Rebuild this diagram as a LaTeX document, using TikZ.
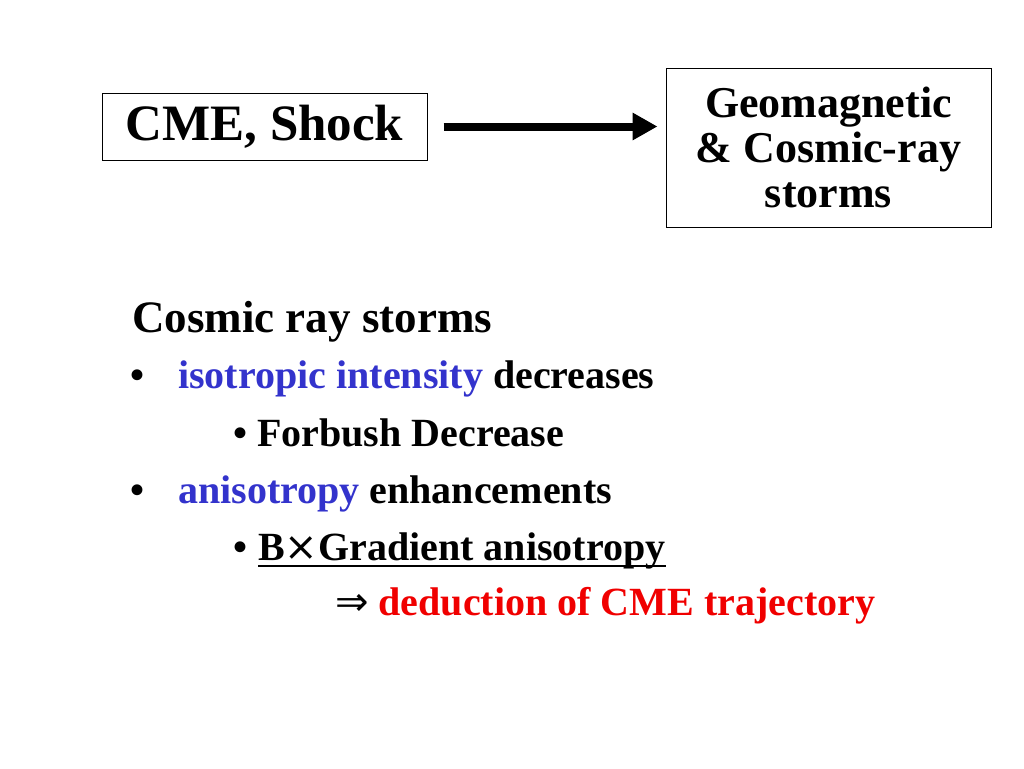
\documentclass[tikz,border=0pt]{standalone}
\usepackage{fontspec}
\setmainfont{Liberation Serif}
\newfontfamily\symfont{DejaVu Sans}
\usetikzlibrary{positioning,arrows.meta}
\definecolor{isoblue}{RGB}{51,51,204}
\definecolor{trajred}{RGB}{240,0,0}

\begin{document}
\begin{tikzpicture}[x=1pt, y=-1pt,
    box/.style={draw, line width=1pt, inner sep=0pt, align=center},
    txt/.style={anchor=base west, inner sep=0pt, font=\fontsize{40}{40}\selectfont\bfseries},
    bigarrow/.style={line width=8pt, -{Triangle[length=25pt, width=26pt]}}]
    \useasboundingbox (0,0) rectangle (1024,768);

    % CME leads to storms
    \node (cme) [box, minimum width=325pt, minimum height=67pt, font=\fontsize{51}{51}\selectfont\bfseries] at (264.5,126.5) {CME, Shock};
    \node (geo) [box, minimum width=325pt, minimum height=159pt, font=\fontsize{44}{45}\selectfont\bfseries, right=238pt of cme, yshift=-21pt] {Geomagnetic\\ \& Cosmic-ray\\ storms};
    \draw [bigarrow, shorten <=16pt, shorten >=8pt] (cme.east) -- (cme.east -| geo.west);

    % Cosmic ray storms list
    \node (title) [txt, font=\fontsize{45}{45}\selectfont\bfseries] at (132,332) {Cosmic ray storms};
    \node (dot1) [txt] at (130,388) {•};
    \node (iso) [txt] at (178,388) {\textcolor{isoblue}{isotropic intensity} decreases};
    \node (fd) [txt] at (233,446) {• Forbush Decrease};
    \node (dot2) [txt] at (130,503) {•};
    \node (aniso) [txt] at (178,503) {\textcolor{isoblue}{anisotropy} enhancements};
    \node (dot3) [txt] at (233,560) {•};
    \node (bxg) [txt] at (258,560) {B{\symfont\mdseries ×}Gradient anisotropy};
    \draw [line width=2pt] ([yshift=-6pt]bxg.base west) -- ([yshift=-6pt]bxg.base east);
    \node (ded) [txt] at (335,615) {{\symfont\mdseries ⇒} \textcolor{trajred}{deduction of CME trajectory}};
\end{tikzpicture}
\end{document}
